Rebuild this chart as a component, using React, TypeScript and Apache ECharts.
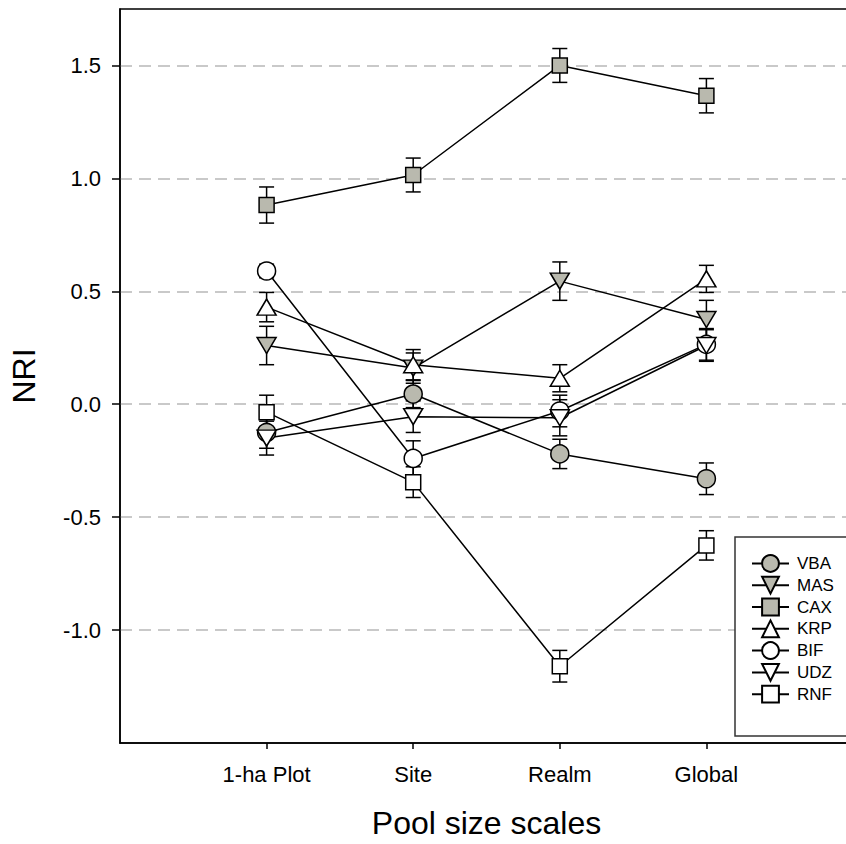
import React, { useEffect, useRef } from "react";
import * as echarts from "echarts";

// Pool size scales along the x axis (placed at x = 1..4)
const scales = ["1-ha Plot", "Site", "Realm", "Global"];
const yTickValues = [-1.0, -0.5, 0.0, 0.5, 1.0, 1.5];

// NRI means and standard errors per community
const vbaValues = [-0.125, 0.045, -0.22, -0.33];
const vbaErrors = [0.07, 0.06, 0.065, 0.07];
const masValues = [0.26, 0.16, 0.545, 0.375];
const masErrors = [0.085, 0.067, 0.085, 0.085];
const caxValues = [0.882, 1.015, 1.5, 1.366];
const caxErrors = [0.08, 0.075, 0.075, 0.076];
const krpValues = [0.43, 0.175, 0.115, 0.555];
const krpErrors = [0.065, 0.067, 0.06, 0.06];
const bifValues = [0.59, -0.24, -0.03, 0.265];
const bifErrors = [0.03, 0.078, 0.07, 0.07];
const udzValues = [-0.15, -0.055, -0.06, 0.26];
const udzErrors = [0.075, 0.07, 0.08, 0.07];
const rnfValues = [-0.035, -0.345, -1.16, -0.625];
const rnfErrors = [0.075, 0.068, 0.07, 0.065];

const GRAY = "#b9b9ae";
const WHITE = "#ffffff";
const FONT = "'Liberation Sans', Arial, sans-serif";

type Spec = {
  name: string;
  values: number[];
  errors: number[];
  symbol: string;
  size: number | number[];
  rotate: number;
  fill: string;
};

const specs: Spec[] = [
  { name: "VBA", values: vbaValues, errors: vbaErrors, symbol: "circle", size: 18, rotate: 0, fill: GRAY },
  { name: "MAS", values: masValues, errors: masErrors, symbol: "triangle", size: [19, 16], rotate: 180, fill: GRAY },
  { name: "CAX", values: caxValues, errors: caxErrors, symbol: "rect", size: 15, rotate: 0, fill: GRAY },
  { name: "KRP", values: krpValues, errors: krpErrors, symbol: "triangle", size: [19, 16], rotate: 0, fill: WHITE },
  { name: "BIF", values: bifValues, errors: bifErrors, symbol: "circle", size: 18, rotate: 0, fill: WHITE },
  { name: "UDZ", values: udzValues, errors: udzErrors, symbol: "triangle", size: [19, 16], rotate: 180, fill: WHITE },
  { name: "RNF", values: rnfValues, errors: rnfErrors, symbol: "rect", size: 15, rotate: 0, fill: WHITE },
];

function errorBarSeries(spec: Spec) {
  return {
    type: "custom",
    name: spec.name + " SE",
    z: 1,
    silent: true,
    encode: { x: 0, y: 1 },
    data: spec.values.map((v, i) => [i + 1, v, spec.errors[i]]),
    renderItem: (_params: any, api: any) => {
      const x = api.value(0);
      const y = api.value(1);
      const e = api.value(2);
      const top = api.coord([x, y + e]);
      const bot = api.coord([x, y - e]);
      const hw = 7.5;
      const style = { stroke: "#000", lineWidth: 1.5 };
      return {
        type: "group",
        children: [
          { type: "line", shape: { x1: top[0], y1: top[1], x2: bot[0], y2: bot[1] }, style },
          { type: "line", shape: { x1: top[0] - hw, y1: top[1], x2: top[0] + hw, y2: top[1] }, style },
          { type: "line", shape: { x1: bot[0] - hw, y1: bot[1], x2: bot[0] + hw, y2: bot[1] }, style },
        ],
      };
    },
  };
}

function lineSeries(spec: Spec) {
  return {
    type: "line",
    name: spec.name,
    z: 2,
    data: spec.values.map((v, i) => [i + 1, v]),
    symbol: spec.symbol,
    symbolSize: spec.size,
    symbolRotate: spec.rotate,
    showAllSymbol: true,
    lineStyle: { color: "#000", width: 1.5 },
    itemStyle: { color: spec.fill, borderColor: "#000", borderWidth: 1.5 },
    emphasis: { disabled: true },
  };
}

export default function App() {
  const ref = useRef<HTMLDivElement>(null);

  useEffect(() => {
    if (!ref.current) return;
    const chart = echarts.init(ref.current, undefined, { renderer: "svg" });
    chart.setOption({
      animation: false,
      backgroundColor: "#ffffff",
      textStyle: { fontFamily: FONT },
      grid: {
        left: 119,
        top: 9,
        width: 734,
        height: 735,
        show: true,
        borderColor: "#000",
        borderWidth: 1.5,
        backgroundColor: "transparent",
      },
      xAxis: {
        type: "value",
        min: 0,
        max: 5,
        interval: 1,
        name: "Pool size scales",
        nameLocation: "middle",
        nameGap: 64,
        nameTextStyle: { fontSize: 32, color: "#000", fontFamily: FONT },
        axisLine: { show: true, onZero: false, lineStyle: { color: "#000", width: 1.5 } },
        axisTick: {
          show: true,
          inside: false,
          length: 6,
          customValues: [1, 2, 3, 4],
          lineStyle: { color: "#000", width: 1.5 },
        },
        axisLabel: {
          customValues: [1, 2, 3, 4],
          formatter: (v: number) => scales[Math.round(v) - 1] ?? "",
          fontSize: 22,
          color: "#000",
          margin: 20,
          fontFamily: FONT,
        },
        splitLine: { show: false },
      },
      yAxis: {
        type: "value",
        min: -1.5,
        max: 1.75,
        interval: 0.5,
        name: "NRI",
        nameLocation: "middle",
        nameGap: 80,
        nameTextStyle: { fontSize: 32, color: "#000", fontFamily: FONT },
        axisLine: { show: true, onZero: false, lineStyle: { color: "#000", width: 1.5 } },
        axisTick: {
          show: true,
          inside: false,
          length: 8,
          customValues: yTickValues,
          lineStyle: { color: "#000", width: 1.5 },
        },
        axisLabel: {
          customValues: yTickValues,
          formatter: (v: number) => v.toFixed(1),
          fontSize: 22,
          color: "#000",
          margin: 19,
          fontFamily: FONT,
        },
        splitLine: {
          show: true,
          lineStyle: { color: "#b8b8b8", width: 1.5, type: [12, 7] },
        },
      },
      // Legend frame: extends past the right edge of the visible area
      graphic: [
        {
          type: "rect",
          z: 10,
          shape: { x: 735, y: 537, width: 200, height: 199 },
          style: { fill: "#ffffff", stroke: "#333", lineWidth: 1.5 },
        },
      ],
      legend: {
        orient: "vertical",
        left: 751,
        top: 554,
        z: 20,
        data: specs.map((s) => s.name),
        itemWidth: 37,
        itemHeight: 21,
        itemGap: 3,
        padding: 0,
        selectedMode: false,
        textStyle: { fontSize: 17, color: "#000", fontFamily: FONT, padding: [0, 0, 0, 3] },
      },
      series: [...specs.map(errorBarSeries), ...specs.map(lineSeries)],
    });
    return () => chart.dispose();
  }, []);

  return (
    <div
      style={{
        position: "fixed",
        left: 0,
        top: 0,
        width: 846,
        height: 844,
        overflow: "hidden",
        background: "#ffffff",
      }}
    >
      <div ref={ref} style={{ width: 900, height: 844 }} />
    </div>
  );
}
